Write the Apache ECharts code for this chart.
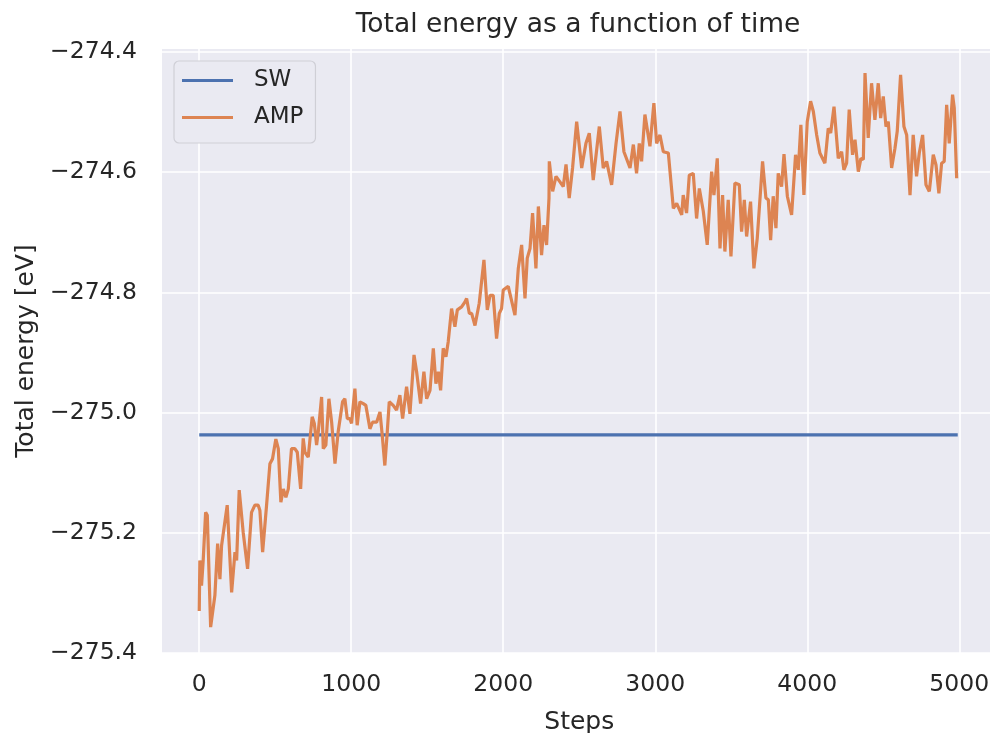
<!DOCTYPE html>
<html>
<head>
<meta charset="utf-8">
<script src="https://cdn.jsdelivr.net/npm/echarts@6/dist/echarts.min.js"></script>
<style>html,body{margin:0;padding:0;background:#fff;}#c{width:990px;height:733px;}</style>
</head>
<body>
<div id="c"></div>
<script>
const xTicks = [0, 1000, 2000, 3000, 4000, 5000];
const yTicks = [-275.4, -275.2, -275.0, -274.8, -274.6, -274.4];

const swSteps  = [0, 1000, 2000, 3000, 4000, 4990];
const swEnergy = [-275.037, -275.037, -275.037, -275.037, -275.037, -275.037];

const ampSteps = [
  0, 4, 15, 26, 42, 53, 75, 103, 121, 136, 147, 184, 213, 235, 246, 263, 289, 318, 344, 366,
  388, 399, 417, 443, 465, 482, 504, 520, 537, 553, 570, 586, 607, 629, 645, 667, 684, 695, 717, 743,
  757, 772, 783, 805, 816, 833, 853, 871, 893, 914, 943, 958, 974, 991, 1002, 1024, 1039, 1057, 1079, 1096,
  1123, 1140, 1167, 1189, 1204, 1221, 1237, 1250, 1276, 1298,
  1320, 1338, 1364, 1386, 1413, 1430, 1456, 1478, 1496, 1518, 1540, 1557, 1573, 1588, 1605, 1623, 1638, 1660, 1682, 1698,
  1726, 1748, 1759, 1777, 1792, 1814, 1842, 1873, 1895, 1913, 1934, 1956, 1974, 1989, 2000, 2033, 2044, 2077, 2099, 2121,
  2143, 2158, 2176, 2193, 2215, 2231, 2252, 2268, 2285, 2301,
  2303, 2325, 2347, 2373, 2395, 2413, 2434, 2456, 2483, 2516, 2544, 2566, 2592, 2632, 2658, 2680, 2713, 2742, 2768, 2794,
  2834, 2856, 2877, 2895, 2910, 2932, 2965, 2991, 3009, 3031, 3053, 3086, 3119, 3141, 3174, 3184, 3206, 3224, 3250, 3272, 3290,
  3316, 3342, 3371, 3386, 3408, 3426, 3443, 3458, 3480, 3498, 3524, 3553, 3568, 3586, 3601, 3627, 3649, 3671, 3684, 3706,
  3728, 3744, 3759, 3776, 3794, 3809, 3831, 3847, 3869, 3897, 3923, 3941, 3958, 3978, 4000, 4022, 4040, 4062, 4083, 4116,
  4138, 4154, 4176, 4204, 4226, 4241, 4259, 4276, 4298, 4314, 4336, 4353, 4369, 4380, 4401, 4423, 4445, 4467, 4483, 4500,
  4518, 4533, 4555, 4577, 4592, 4614, 4636, 4654, 4676, 4697, 4719, 4737, 4759, 4781, 4803, 4829, 4847, 4866, 4884, 4901,
  4917, 4934, 4956, 4967, 4983
];
const ampEnergy = [
  -275.330, -275.246, -275.288, -275.246, -275.166, -275.171, -275.357, -275.304, -275.218, -275.277, -275.221, -275.154, -275.299, -275.232, -275.246, -275.129, -275.199, -275.260, -275.166, -275.154,
  -275.154, -275.163, -275.232, -275.154, -275.085, -275.077, -275.044, -275.060, -275.149, -275.127, -275.141, -275.127, -275.060, -275.060, -275.066, -275.127, -275.043, -275.066, -275.074, -275.007,
  -275.018, -275.054, -275.032, -274.974, -275.060, -275.054, -274.977, -275.016, -275.085, -275.032, -274.982, -274.977, -275.010, -275.010, -275.018, -274.960, -275.021, -274.982, -274.985, -274.988,
  -275.027, -275.016, -275.016, -274.999, -275.038, -275.088, -275.032, -274.982, -274.988, -274.996,
  -274.971, -275.010, -274.957, -275.002, -274.904, -274.932, -274.985, -274.932, -274.977, -274.963, -274.893, -274.952, -274.932, -274.963, -274.893, -274.907, -274.882, -274.827, -274.857, -274.829,
  -274.824, -274.816, -274.810, -274.835, -274.835, -274.855, -274.818, -274.746, -274.829, -274.805, -274.805, -274.877, -274.835, -274.827, -274.796, -274.790, -274.802, -274.838, -274.760, -274.721,
  -274.810, -274.743, -274.727, -274.668, -274.760, -274.657, -274.738, -274.688, -274.721, -274.643,
  -274.582, -274.632, -274.607, -274.616, -274.624, -274.587, -274.643, -274.593, -274.516, -274.593, -274.552, -274.535, -274.613, -274.524, -274.593, -274.582, -274.621, -274.552, -274.499, -274.566,
  -274.593, -274.554, -274.602, -274.552, -274.582, -274.504, -274.557, -274.485, -274.552, -274.538, -274.566, -274.568, -274.660, -274.652, -274.671, -274.638, -274.668, -274.605, -274.602, -274.677, -274.627,
  -274.665, -274.721, -274.599, -274.638, -274.577, -274.727, -274.638, -274.732, -274.646, -274.740, -274.618, -274.621, -274.699, -274.646, -274.707, -274.649, -274.760, -274.710, -274.707, -274.582,
  -274.643, -274.646, -274.713, -274.640, -274.693, -274.602, -274.624, -274.570, -274.640, -274.671, -274.571, -274.596, -274.521, -274.638, -274.516, -274.482, -274.499, -274.538, -274.568, -274.585,
  -274.527, -274.535, -274.491, -274.577, -274.566, -274.596, -274.585, -274.496, -274.571, -274.546, -274.599, -274.577, -274.579, -274.435, -274.543, -274.452, -274.513, -274.452, -274.510, -274.474,
  -274.524, -274.516, -274.593, -274.560, -274.532, -274.438, -274.524, -274.538, -274.638, -274.538, -274.607, -274.568, -274.538, -274.621, -274.632, -274.571, -274.588, -274.635, -274.585, -274.582,
  -274.488, -274.552, -274.471, -274.493, -274.610
];

const FONT = 'DejaVu Sans';
const TXT = '#262626';
const pairs = (xs, ys) => xs.map((x, i) => [x, ys[i]]);
const fmtY = v => (v < 0 ? '\u2212' : '') + Math.abs(v).toFixed(1);
const fmtX = v => String(Math.round(v));

const chart = echarts.init(document.getElementById('c'), null, {renderer: 'canvas'});
chart.setOption({
  animation: false,
  backgroundColor: '#ffffff',
  title: {
    text: 'Total energy as a function of time',
    left: 578, top: 12, padding: 0, textAlign: 'center',
    textStyle: {fontFamily: FONT, fontSize: 26.5, fontWeight: 'normal', color: TXT}
  },
  legend: {
    orient: 'vertical', left: 174, top: 61,
    padding: [8, 12, 14, 8],
    backgroundColor: '#eaeaf2', borderColor: '#cfcfd6', borderWidth: 1.2, borderRadius: 5,
    icon: 'rect', itemWidth: 51, itemHeight: 3, itemGap: 14,
    textStyle: {fontFamily: FONT, fontSize: 23, color: TXT, lineHeight: 23, padding: [0, 0, 0, 16]},
    data: ['SW', 'AMP']
  },
  grid: {left: 162, top: 49, width: 834.5, height: 604, containLabel: false, outerBoundsMode: 'none',
         show: true, backgroundColor: '#eaeaf2', borderWidth: 0},
  xAxis: {
    type: 'value', min: -245, max: 5245,
    name: 'Steps', nameLocation: 'middle', nameGap: 57,
    nameTextStyle: {fontFamily: FONT, fontSize: 25, color: TXT},
    axisLine: {show: false}, axisTick: {show: false, customValues: xTicks},
    axisLabel: {customValues: xTicks, fontFamily: FONT, fontSize: 23.5, color: TXT, margin: 20, formatter: fmtX},
    splitLine: {show: true, lineStyle: {color: '#ffffff', width: 1.6}}
  },
  yAxis: {
    type: 'value', min: -275.4, max: -274.395,
    name: 'Total energy [eV]', nameLocation: 'middle', nameGap: 122,
    nameTextStyle: {fontFamily: FONT, fontSize: 25, color: TXT},
    axisLine: {show: false}, axisTick: {show: false, customValues: yTicks},
    axisLabel: {customValues: yTicks, fontFamily: FONT, fontSize: 23.5, color: TXT, margin: 25, formatter: fmtY},
    splitLine: {show: true, lineStyle: {color: '#ffffff', width: 1.6}}
  },
  series: [
    {name: 'SW', type: 'line', data: pairs(swSteps, swEnergy), showSymbol: false, symbol: 'none',
     lineStyle: {color: '#4c72b0', width: 3.2}, itemStyle: {color: '#4c72b0'}},
    {name: 'AMP', type: 'line', data: pairs(ampSteps, ampEnergy), showSymbol: false, symbol: 'none',
     lineStyle: {color: '#dd8452', width: 3.2}, itemStyle: {color: '#dd8452'}}
  ]
});
</script>
</body>
</html>
